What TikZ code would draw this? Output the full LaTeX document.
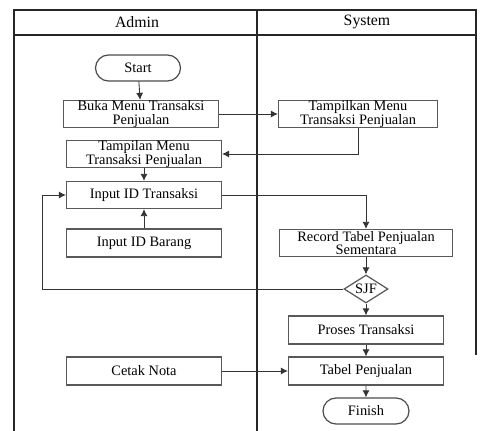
\documentclass[tikz,border=0pt]{standalone}
\usepackage{fontspec}
\setmainfont{Liberation Serif}
\usetikzlibrary{arrows.meta,shapes.geometric,shapes.misc}

\tikzset{
  lane/.style={line width=1.1pt, black!85},
  box/.style={draw=black!65, line width=0.7pt, rectangle, inner sep=0pt,
    minimum width=3.1cm, minimum height=0.54cm, align=center,
    font=\fontsize{8.2}{7.6}\selectfont},
  term/.style={draw=black!70, line width=0.7pt, rounded rectangle, inner sep=0pt,
    minimum height=0.52cm, font=\fontsize{8.2}{8}\selectfont},
  choice/.style={draw=black!65, line width=0.7pt, diamond, aspect=1.6, inner sep=0pt,
    minimum width=0.88cm, minimum height=0.56cm, font=\fontsize{8.2}{8}\selectfont},
  arr/.style={-{Latex[length=4pt,width=4pt]}, line width=0.5pt, black!80},
}

\begin{document}
\begin{tikzpicture}[x=0.02cm, y=-0.02cm]
    \useasboundingbox (0,0) rectangle (481,431);
    % swimlanes
    \draw[lane] (14,431) -- (14,10) -- (476,10) -- (476,355);
    \draw[lane] (14,35) -- (476,35);
    \draw[lane] (257,10) -- (257,431);
    \node (admin) at (137,22) {\fontsize{9}{9}\selectfont Admin};
    \node (system) at (367,22) {\fontsize{9}{9}\selectfont System};

    % admin side
    \node[term, minimum width=1.7cm] (start) at (138,68) {Start};
    \node[box] (buka) at (141,114) {Buka Menu Transaksi\\Penjualan};
    \node[box] (tampilan) at (144,154) {Tampilan Menu\\Transaksi Penjualan};
    \node[box] (inputtrx) at (144,195) {Input ID Transaksi};
    \node[box, minimum height=0.56cm] (inputbrg) at (144,243) {Input ID Barang};
    \node[box, minimum height=0.56cm] (cetak) at (144,371) {Cetak Nota};

    % system side
    \node[box, minimum width=3.18cm] (tampilkan) at (358,114) {Tampilkan Menu\\Transaksi Penjualan};
    \node[box, minimum width=3.46cm] (record) at (366,243) {Record Tabel Penjualan\\Sementara};
    \node[choice] (sjf) at (366,289) {SJF};
    \node[box, minimum height=0.56cm] (proses) at (366,330) {Proses Transaksi};
    \node[box, minimum height=0.56cm] (tabel) at (366,371) {Tabel Penjualan};
    \node[term, minimum width=1.72cm] (finish) at (366,411) {Finish};
    \coordinate (back) at (42,289);

    % flow
    \draw[arr] (start) -- (buka);
    \draw[arr] (buka) -- (tampilkan);
    \draw[arr] (tampilkan.south) |- (tampilan.east);
    \draw[arr] (tampilan) -- (inputtrx);
    \draw[arr] (inputbrg) -- (inputtrx);
    \draw[arr] (inputtrx.east) -| (record.north);
    \draw[arr] (record) -- (sjf);
    \draw[arr] (sjf.west) -- (back) |- (inputtrx.west);
    \draw[arr] (sjf) -- (proses);
    \draw[arr] (proses) -- (tabel);
    \draw[arr] (cetak) -- (tabel);
    \draw[arr] (tabel) -- (finish);
\end{tikzpicture}
\end{document}
